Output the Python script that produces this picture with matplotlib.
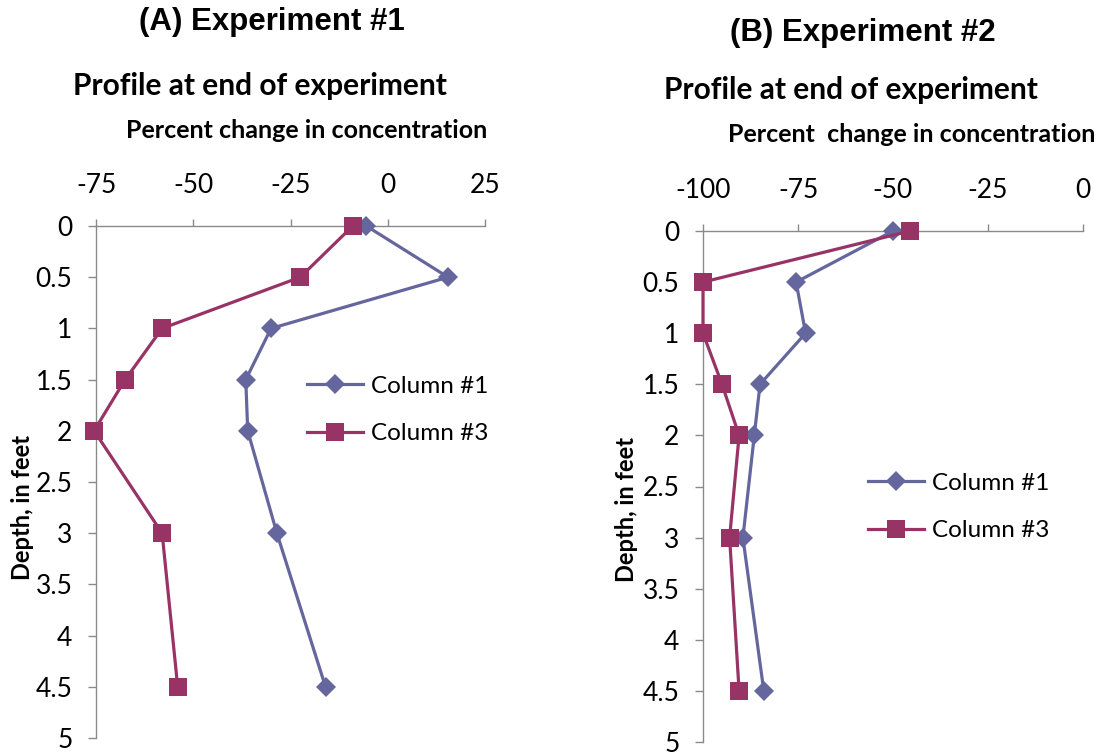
import matplotlib
matplotlib.use("Agg")
import matplotlib.pyplot as plt

plt.rcParams["axes.unicode_minus"] = False

# depth below surface, feet
depth = [0, 0.5, 1, 1.5, 2, 3, 4.5]

# percent change in concentration, experiment 1
exp1_col1 = [-5.5, 15.5, -30, -36.5, -36, -28.5, -16]
exp1_col3 = [-9, -22.5, -58, -67.5, -75.5, -58, -54]

# percent change in concentration, experiment 2
exp2_col1 = [-50, -75.5, -73, -85, -86.5, -89.5, -84]
exp2_col3 = [-45.5, -100, -100, -95, -90.5, -93, -90.5]

series_names = ["Column #1", "Column #3"]

exp1_ticks = [-75, -50, -25, 0, 25]
exp2_ticks = [-100, -75, -50, -25, 0]
depth_ticks = [0, 0.5, 1, 1.5, 2, 2.5, 3, 3.5, 4, 4.5, 5]
depth_labels = ["0", "0.5", "1", "1.5", "2", "2.5", "3", "3.5", "4", "4.5", "5"]

BLUE = "#65669E"
MAGENTA = "#983366"
AXIS_GRAY = "#8A8A8A"
BODY_FONT = "Lato"
TITLE_FONT = "Liberation Sans"

W, H = 1101, 752
fig = plt.figure(figsize=(W / 100, H / 100), dpi=100)


def px_box(x0, y0, x1, y1):
    return [x0 / W, 1 - y1 / H, (x1 - x0) / W, (y1 - y0) / H]


def profile_axes(rect, col1, col3, xticks, legend_xy):
    ax = fig.add_axes(rect)
    ax.plot(col1, depth, color=BLUE, lw=2.3, marker="D", ms=9.8,
            mew=0, clip_on=False, zorder=3, label=series_names[0])
    ax.plot(col3, depth, color=MAGENTA, lw=2.3, marker="s", ms=12.5,
            mew=0, clip_on=False, zorder=3, label=series_names[1])

    ax.set_xlim(xticks[0], xticks[-1])
    ax.set_ylim(5, 0)
    ax.set_xticks(xticks)
    ax.set_yticks(depth_ticks)
    ax.set_yticklabels(depth_labels)

    ax.xaxis.tick_top()
    for side in ["bottom", "right"]:
        ax.spines[side].set_visible(False)
    for side in ["top", "left"]:
        ax.spines[side].set_color(AXIS_GRAY)
        ax.spines[side].set_linewidth(1.0)

    ax.tick_params(axis="x", direction="out", length=5, width=1.0,
                   color=AXIS_GRAY, pad=15, labelsize=19)
    ax.tick_params(axis="y", direction="out", length=6, width=1.0,
                   color=AXIS_GRAY, pad=11, labelsize=19)
    for lab in ax.get_xticklabels() + ax.get_yticklabels():
        lab.set_fontfamily(BODY_FONT)

    ax.legend(loc="center left", bbox_to_anchor=legend_xy,
              bbox_transform=fig.transFigure, frameon=False,
              prop={"family": BODY_FONT, "size": 17.5},
              handlelength=2.3, handletextpad=0.35, labelspacing=1.1,
              borderpad=0, borderaxespad=0)
    return ax


ax1 = profile_axes(px_box(96, 226, 485, 738), exp1_col1, exp1_col3,
                   exp1_ticks, (307 / W, 1 - 410 / H))
ax2 = profile_axes(px_box(703, 231, 1083, 742), exp2_col1, exp2_col3,
                   exp2_ticks, (868 / W, 1 - 507 / H))

# titles and axis captions
fig.text(272 / W, 1 - 22 / H, "(A) Experiment #1", ha="center", va="center",
         fontsize=22.5, fontweight="bold", family=TITLE_FONT)
fig.text(863 / W, 1 - 33 / H, "(B) Experiment #2", ha="center", va="center",
         fontsize=22.5, fontweight="bold", family=TITLE_FONT)

fig.text(260 / W, 1 - 86 / H, "Profile at end of experiment", ha="center",
         va="center", fontsize=21.5, fontweight="bold", family=BODY_FONT)
fig.text(851 / W, 1 - 90 / H, "Profile at end of experiment", ha="center",
         va="center", fontsize=21.5, fontweight="bold", family=BODY_FONT)

fig.text(307 / W, 1 - 130 / H, "Percent change in concentration", ha="center",
         va="center", fontsize=18, fontweight="bold", family=BODY_FONT)
fig.text(912 / W, 1 - 134 / H, "Percent  change in concentration", ha="center",
         va="center", fontsize=18, fontweight="bold", family=BODY_FONT)

fig.text(22 / W, 1 - 508 / H, "Depth, in feet", ha="center", va="center",
         rotation=90, fontsize=17, fontweight="bold", family=BODY_FONT)
fig.text(627 / W, 1 - 510 / H, "Depth, in feet", ha="center", va="center",
         rotation=90, fontsize=17, fontweight="bold", family=BODY_FONT)

fig.savefig("out.png", dpi=100)
